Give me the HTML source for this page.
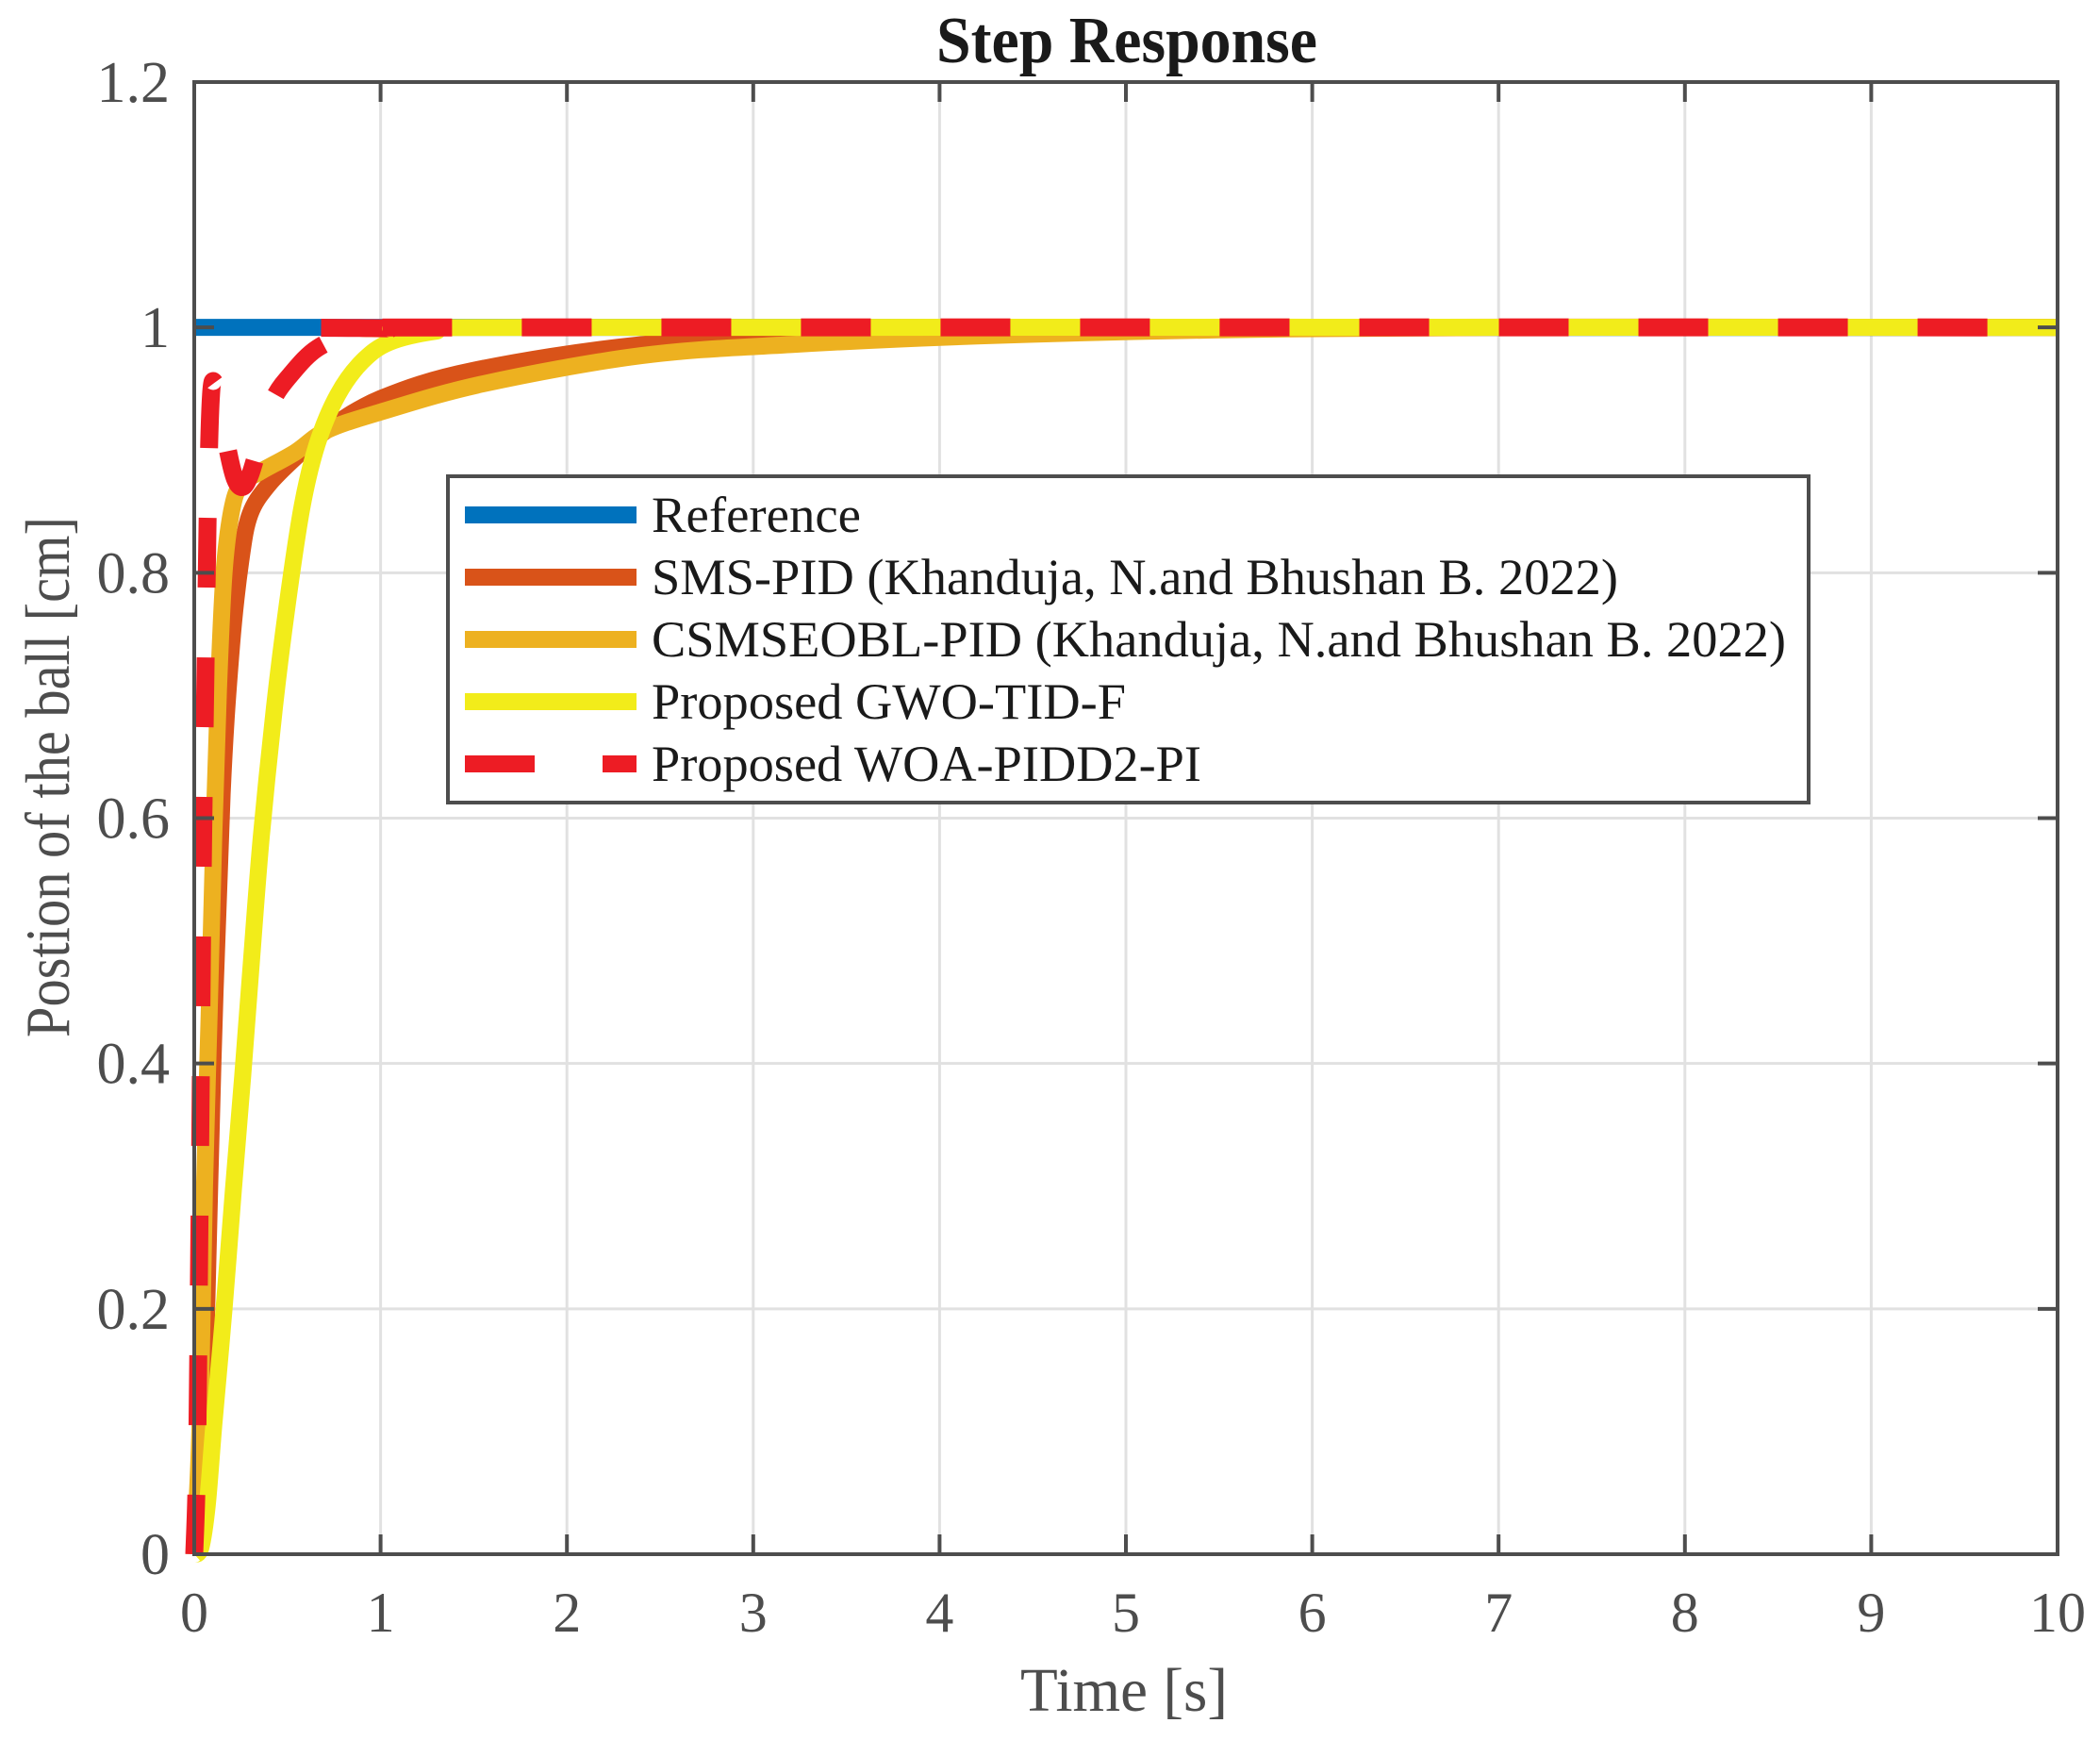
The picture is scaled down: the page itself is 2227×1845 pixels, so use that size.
<!DOCTYPE html>
<html><head><meta charset="utf-8"><style>
html,body{margin:0;padding:0;background:#fff;}
svg{display:block;}
text{font-family:"Liberation Serif","Times New Roman",serif;fill:#4d4d4d;}
</style></head><body>
<svg id="s" width="2227" height="1845" viewBox="0 0 2227 1845" xmlns="http://www.w3.org/2000/svg">
<rect width="2227" height="1845" fill="#fff"/>
<g id="grid" stroke="#e1e1e1" stroke-width="3"></g>
<g id="curves" fill="none" stroke-linejoin="round"></g>
<g id="axes" stroke="#4d4d4d" stroke-width="4" fill="none"></g>
<g id="labels"></g>
<text x="1195" y="66" text-anchor="middle" font-weight="bold" font-size="70" textLength="404" lengthAdjust="spacingAndGlyphs" style="fill:#1a1a1a">Step Response</text>
<text x="1192" y="1814" text-anchor="middle" font-size="66" textLength="220" lengthAdjust="spacingAndGlyphs">Time [s]</text>
<text transform="translate(73,824) rotate(-90)" text-anchor="middle" font-size="67" textLength="552" lengthAdjust="spacingAndGlyphs">Postion of the ball [cm]</text>
<g id="legend">
<rect x="475" y="505" width="1443" height="346" fill="#fff" stroke="#4d4d4d" stroke-width="4"/>
<line x1="493" y1="546" x2="675" y2="546" stroke="#0072BD" stroke-width="18"/>
<line x1="493" y1="612" x2="675" y2="612" stroke="#D95319" stroke-width="18"/>
<line x1="493" y1="678" x2="675" y2="678" stroke="#EDB120" stroke-width="18"/>
<line x1="493" y1="744" x2="675" y2="744" stroke="#F2EC1A" stroke-width="18"/>
<line x1="493" y1="810" x2="567" y2="810" stroke="#ED1C24" stroke-width="18"/>
<line x1="639" y1="810" x2="675" y2="810" stroke="#ED1C24" stroke-width="18"/>
<g font-size="54">
<text x="691" y="564" textLength="222" lengthAdjust="spacingAndGlyphs" style="fill:#1a1a1a">Reference</text>
<text x="691" y="630" textLength="1025" lengthAdjust="spacingAndGlyphs" style="fill:#1a1a1a">SMS-PID (Khanduja, N.and Bhushan B. 2022)</text>
<text x="691" y="696" textLength="1203" lengthAdjust="spacingAndGlyphs" style="fill:#1a1a1a">CSMSEOBL-PID (Khanduja, N.and Bhushan B. 2022)</text>
<text x="691" y="762" textLength="503" lengthAdjust="spacingAndGlyphs" style="fill:#1a1a1a">Proposed GWO-TID-F</text>
<text x="691" y="828" textLength="583" lengthAdjust="spacingAndGlyphs" style="fill:#1a1a1a">Proposed WOA-PIDD2-PI</text>
</g>
</g>
</svg>
<script>
(function(){
var NS="http://www.w3.org/2000/svg";
var L=206,R=2182,T=87,B=1648;
function X(t){return L+(R-L)*t/10;}
function Y(v){return B-(B-T)*v/1.2;}
function el(tag,attrs,parent){var e=document.createElementNS(NS,tag);for(var k in attrs)e.setAttribute(k,attrs[k]);parent.appendChild(e);return e;}
var grid=document.getElementById('grid'),axes=document.getElementById('axes'),lab=document.getElementById('labels');
for(var i=1;i<10;i++){el('line',{x1:X(i),y1:T,x2:X(i),y2:B},grid);}
for(var j=1;j<6;j++){var v=j*0.2;el('line',{x1:L,y1:Y(v),x2:R,y2:Y(v)},grid);}
for(var i=0;i<=10;i++){var x=X(i);
 el('line',{x1:x,y1:B,x2:x,y2:B-21},axes);el('line',{x1:x,y1:T,x2:x,y2:T+21},axes);
 var t=el('text',{x:x,y:1730,'text-anchor':'middle','font-size':'60'},lab);t.textContent=String(i);}
var yl=['0','0.2','0.4','0.6','0.8','1','1.2'];
for(var j=0;j<=6;j++){var y=Y(j*0.2);
 el('line',{x1:L,y1:y,x2:L+21,y2:y},axes);el('line',{x1:R,y1:y,x2:R-21,y2:y},axes);
 var t=el('text',{x:180,y:y+21,'text-anchor':'end','font-size':'62'},lab);t.textContent=yl[j];}
el('rect',{x:L,y:T,width:R-L,height:B-T},axes);

function path(pts){
 var p=pts.map(function(a){return [X(a[0]),Y(a[1])];});
 var d='M'+p[0][0]+','+p[0][1];
 for(var i=0;i<p.length-1;i++){
  var p0=p[i-1]||p[i],p1=p[i],p2=p[i+1],p3=p[i+2]||p2;
  var c1=[p1[0]+(p2[0]-p0[0])/6,p1[1]+(p2[1]-p0[1])/6];
  var c2=[p2[0]-(p3[0]-p1[0])/6,p2[1]-(p3[1]-p1[1])/6];
  d+='C'+c1[0].toFixed(1)+','+c1[1].toFixed(1)+' '+c2[0].toFixed(1)+','+c2[1].toFixed(1)+' '+p2[0].toFixed(1)+','+p2[1].toFixed(1);
 }
 return d;
}
var C=document.getElementById('curves');
el('path',{d:path([[0,1],[10,1]]),stroke:'#0072BD','stroke-width':18},C);
var sms=[[0,0],[0.03,0.04],[0.06,0.16],[0.1,0.4],[0.15,0.62],[0.2,0.74],[0.25,0.81],[0.3,0.848],[0.4,0.872],[0.55,0.895],[0.7,0.915],[1.0,0.942],[1.5,0.965],[2.4,0.986],[3.5,0.996],[5,1],[10,1]];
el('path',{d:path(sms),stroke:'#D95319','stroke-width':18},C);
var cs=[[0,0],[0.03,0.1],[0.055,0.3],[0.08,0.44],[0.105,0.585],[0.13,0.705],[0.16,0.8],[0.2,0.85],[0.25,0.872],[0.35,0.882],[0.54,0.898],[0.71,0.916],[1.0,0.931],[1.55,0.954],[2.4,0.977],[3.2,0.986],[4.2,0.993],[5.5,0.998],[7,1],[10,1]];
el('path',{d:path(cs),stroke:'#EDB120','stroke-width':18},C);
var gw=[[0,0],[0.035,0.005],[0.07,0.04],[0.105,0.105],[0.16,0.2],[0.21,0.297],[0.26,0.39],[0.31,0.49],[0.36,0.585],[0.43,0.69],[0.5,0.775],[0.58,0.855],[0.66,0.905],[0.77,0.945],[0.9,0.972],[1.05,0.988],[1.3,0.997],[1.6,1],[10,1]];
el('path',{d:path(gw),stroke:'#F2EC1A','stroke-width':18},C);
var wo=[[0,0],[0.015,0.08],[0.03,0.3],[0.045,0.55],[0.06,0.72],[0.075,0.87],[0.09,0.945],[0.11,0.955],[0.14,0.935],[0.18,0.9],[0.22,0.876],[0.26,0.87],[0.3,0.88],[0.35,0.905],[0.42,0.94],[0.52,0.962],[0.66,0.983],[0.85,0.995],[1.05,0.999],[1.4,1],[10,1]];
var rp=el('path',{d:path(wo),stroke:'#ED1C24','stroke-width':19,'stroke-dasharray':'74 74'},C);
try{
 var tot=rp.getTotalLength(),Ls=0;
 for(var s=0;s<tot;s+=1){if(rp.getPointAtLength(s).x>=414){Ls=s;break;}}
 var off=148-(Ls%148);
 rp.setAttribute('stroke-dashoffset',off);
}catch(e){}
})();
</script>
</body></html>
